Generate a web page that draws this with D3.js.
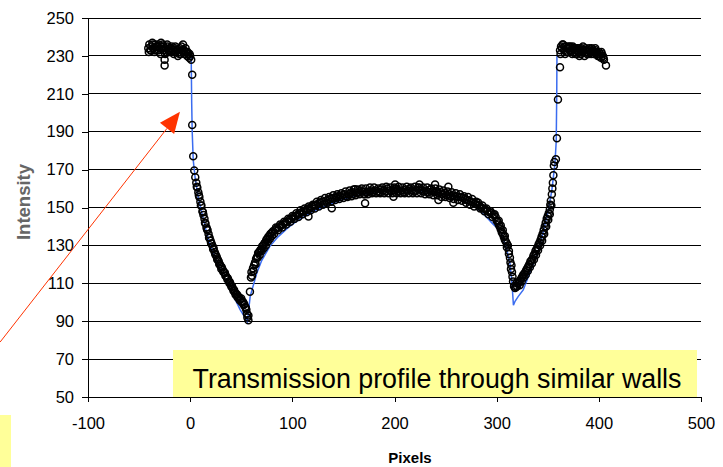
<!DOCTYPE html>
<html>
<head>
<meta charset="utf-8">
<script src="https://cdn.jsdelivr.net/npm/d3@7"></script>
<style>
  body { margin: 0; background: #fff; }
  svg { display: block; font-family: "Liberation Sans", Arial, sans-serif; }
</style>
</head>
<body>
<div id="chart"></div>
<script>
// measured profile, [pixel, intensity]
const leftPlateau = [
  [-41,234],[-40,236],[-39,233],[-38,235],[-37,237],[-36,234],[-35,232],[-34,236],[-33,235],
  [-32,233],[-31,236],[-30,234],[-29,231],[-28,235],[-27,236],[-26,233],[-25,228],[-25,225],
  [-24,234],[-23,232],[-22,235],[-21,233],[-20,234],[-19,232],[-18,235],[-17,233],[-16,231],
  [-15,234],[-14,232],[-13,233],[-12,230],[-11,232],[-10,234],[-9,231],[-8,233],[-7,236],
  [-6,233],[-5,231],[-4,232],[-3,230],[-2,231],[-1,229],[0,230],[1,228],
  [-40.5,232],[-38.5,233],[-36.5,236],[-34.5,233],[-32.5,235],[-30.5,233],[-28.5,237],
  [-26.5,235],[-24.5,231],[-22.5,236],[-20.5,232],[-18.5,234],[-16.5,233],[-14.5,235],
  [-12.5,233],[-10.5,231],[-8.5,235],[-6.5,232],[-4.5,234],[-2.5,232],[-0.5,231]
];
const leftWall = [
  [2,220],[2,193.5],[3,177],[4,169.5],[5,166],[6,163],[7,160.5],[8,158],[9,155.5],[10,153],
  [11,151],[12,148],[13,146],[14,144],[15,141.5],[16,139.5],[17,138],[18,136],[19,134],
  [20,132.5],[21,131],[22,129.5],[23,128.5],[24,126.5],[25,125],[26,124],[27,122.5],
  [28,121.5],[29,120],[30,119],[31,118.5],[32,117],[33,116],[34,115.5],[35,114],[36,113],
  [37,112.5],[38,111],[39,110.5],[40,109],[41,108.5],[42,107],[43,106.5],[44,105],
  [45,104.5],[46,104],[47,103],[48,102.5],[49,101.5],[50,102],[51,100.5],[52,100],[53,99],
  [54,97.5],[55,96],[55.5,94],[56,92],[57,90.5],[57,93],
  [6.5,161],[8.5,156.5],[10.5,151],[12.5,147.5],[14.5,142],[16.5,138.5],[18.5,134],
  [20.5,131],[22.5,128],[24.5,125.5],[26.5,122.5],[28.5,120],[30.5,117.5],[32.5,116],
  [34.5,114],[36.5,112],[38.5,110],[40.5,108],[42.5,106],[44.5,104],[46.5,102.5],
  [48.5,101],[50.5,100],[52.5,98.5],[54.5,97]
];
const leftRise = [
  [58.5,105.5],[59.5,113],[60.5,114],[61.5,118],[62.5,119.5],[63.5,121],[64.5,123],[65.5,124],
  [66.5,126],[67.5,126.5],[68.5,127.5],[69.5,128],[70.5,129.5],[71.5,130],[72.5,131],
  [73.5,131.5],[74.5,133],[75.5,133.5],[76.5,134.5],[77.5,135],[78.5,136],[79.5,136.5],
  [60,116],[62,116.5],[64,120],[66,123.5],[68,125],[70,127],[72,128.5],[74,130],[76,132],
  [78,133.5],[80,135]
];
const arch = [
  [81,137.5],[83,138],[85,139],[87,139.5],[89,140.5],[91,141],[93,142],[95,142.5],[97,143.5],
  [99,144],[101,145],[103,145.5],[105,146],[107,147],[109,147.5],[111,148],[113,148.5],
  [115,149.5],[115.8,145.2],[117,149.5],[119,150.5],[121,151],[123,151],[125,152],[127,152.5],
  [129,153],[131,152],[133,153.5],[135,154],[137,154.5],[138.6,149.6],[139,155],[141,155],
  [143,155.5],[145,156],[147,155.5],[149,156.5],[151,157],[153,156],[155,157],[157,157.5],
  [159,157],[161,158],[161.4,159.6],[163,157.5],[165,158],[167,159],[169,158.5],[171,157],
  [171.2,152.2],[173,158],[175,158.5],[177,159],[179,158],[181,159],[183,158.5],[185,158],
  [187,159.5],[189,159],[191,158.5],[193,160],[195,159],[197,158.5],[199,159],[199,155.7],
  [200.6,162.2],[201,160],[203,159.5],[205,158.5],[207,159],[209,158],[211,159.5],[213,159],
  [215,160],[217,159],[219,158.5],[221,159],[223,160.5],[224.4,162.2],[225,159.5],[227,159],
  [229,158.5],[231,159],[233,158],[235,159.5],[237,158.5],[239,158],[239.7,162.2],[241,158.5],
  [243,157.5],[243,154],[245,158],[247,157],[249,157.5],[251,156.5],[252.7,161],[253,157],
  [255,156],[257,156.5],[257.6,152.5],[259,156],[261,156],[263,155.5],[265,155.5],[267,155],
  [269,154.5],[271,154],[273,153.5],[275,153],[277,152.5],[279,152],
  [82,136],[84,139.5],[86,138],[88,141],[90,139.5],[92,142.5],[94,141],[96,144],[98,142.5],
  [100,145.5],[102,144],[104,147],[106,145],[108,148.5],[110,146.5],[112,149.5],[114,147.5],
  [116,150.5],[118,148.5],[120,151.5],[122,149.5],[124,153],[126,150.5],[128,154],[130,151.5],
  [132,155],[134,152.5],[136,155.5],[138,153],[140,156.5],[142,154],[144,157],[146,154.5],
  [148,157.5],[150,155],[152,158.5],[154,155.5],[156,159],[158,156],[160,159.5],[162,156.5],
  [164,159.5],[166,157],[168,160],[170,157],[172,160],[174,157],[176,160.5],[178,157.5],
  [180,160.5],[182,157.5],[184,160],[186,157.5],[188,160.5],[190,157.5],[192,161],[194,157.5],
  [196,160.5],[198,157.5],[200,160.5],[202,157.5],[204,161],[206,157.5],[208,160.5],[210,157.5],
  [212,161],[214,157.5],[216,160.5],[218,157.5],[220,161],[222,157.5],[224,160.5],[226,157.5],
  [228,160.5],[230,157],[232,160.5],[234,157],[236,160],[238,156.5],[240,160],[242,156.5],
  [244,159.5],[246,155.5],[248,159],[250,155.5],[252,158.5],[254,155],[256,158],[258,154.5],
  [260,157.5],[262,154],[264,157],[266,153.5],[268,156],[270,152.5],[272,155.5],[274,151.5],
  [276,154.5],[278,150.5],[280,153]
];
const rightWall = [
  [281,151.5],[283,151],[285,150],[287,149.5],[289,149],[291,148],[293,147.5],[295,147],
  [297,146],[299,145],[301,142.5],[302,141],[303,140],[304,138.5],[305,137],[306,136],
  [307,134.5],[308,133],[309,132],[310,131],[311,130],[312,127],[313,123.5],[313.5,121],
  [314.5,119.5],[315,116],[315.5,113.5],[316,111],[317,108.5],[318,107.5],[319,108],
  [319.5,110],[320,108.5],[321,110],
  [282,152.5],[284,149.5],[286,151],[288,148],[290,149.5],[292,146.5],[294,148],[296,145],
  [298,146.5],[300,143],[302,143],[304,140.5],[306,138],[308,135],[310,129],[312,125.5],
  [314,117.5]
];
const rightRise = [
  [322,111],[323,111.5],[324,112.5],[325,113.5],[326,114.5],[327,115],[328,116],[329,117],
  [330,118],[331,119],[332,120],[333,121.5],[334,122],[335,123],[336,124.5],[337,125.5],
  [338,127],[339,128],[340,129],[341,130.5],[342,131.5],[343,133],[344,134.5],[345,136],
  [346,138],[347,140],[348,142],[349,144],[350,145.5],[351,147],[352,149],[352.5,151.5],
  [353,153.5],[354,157],[354.5,160],[355,163],[355.5,167],[356,172],[356.5,174],[358,175.5],
  [359,186.5],[360,207],[362,224],
  [322.5,109],[324.5,111],[326.5,113],[328.5,114.5],[330.5,116.5],[332.5,118.5],[334.5,120.5],
  [336.5,122.5],[338.5,125],[340.5,127.5],[342.5,130],[344.5,132.5],[346.5,136],[348.5,140],
  [350.5,143.5],[352,146.5],[353.5,151]
];
const rightPlateau = [
  [362,233],[363,235],[364,234],[365,236],[366,233],[367,231],[368,235],[369,234],[370,232],
  [371,234],[372,235],[373,233],[374,231],[375,234],[376,233],[377,231],[378,233],[379,234],
  [380,232],[381,230],[382,233],[383,234],[384,232],[385,233],[386,230],[387,234],[388,233],
  [389,232],[390,231],[391,233],[392,232],[393,234],[394,233],[395,231],[396,232],[397,233],
  [398,232],[399,230],[400,232],[401,231],[402,229],[403,231],[404,230],[405,228],[407,225],
  [362.5,231],[364.5,236],[366.5,235],[368.5,232],[370.5,235],[372.5,232],[374.5,235],
  [376.5,234],[378.5,231],[380.5,234],[382.5,231],[384.5,235],[386.5,233],[388.5,231],
  [390.5,234],[392.5,231],[394.5,232],[396.5,234],[398.5,231],[400.5,230],[402.5,232],
  [404.5,229]
];

// model curve
const fitCurve = [
  [1,230],[1.5,205],[2,190],[3,175],[5,165],[8,155],[12,146],[16,137],[20,129.5],[25,123],
  [30,116.5],[35,111],[40,105.5],[45,100.5],[49,96],[53,92.5],[56,89.7],[58.7,103],[65,115],
  [70,122],[78,129.5],[86,134.5],[95,139],[105,143],[120,148],[140,152.5],[160,156],[180,158],
  [200,159],[220,159],[240,158],[260,155.5],[280,150],[290,145],[296,141.5],[300,139.5],
  [305,136],[310,127.5],[313,120.5],[315,110],[316.4,98.5],[318,100.5],[321,103],[326,106.5],
  [331,113.5],[336,120.5],[341,127.5],[346,138],[350.6,148.7],[354,159],[357,173],[358.3,185],
  [358.8,210],[359,230]
];

const pixelTicks = [-100, 0, 100, 200, 300, 400, 500];
const intensityTicks = [50, 70, 90, 110, 130, 150, 170, 190, 210, 230, 250];
const noteText = "Transmission profile through similar walls";
const arrowFrom = [-186, 79];
const arrowTo = [-10, 200.5];

const width = 723, height = 467;

const svg = d3.select("#chart").append("svg")
  .attr("width", width)
  .attr("height", height);

const x = d3.scaleLinear().domain([-100, 500]).range([88, 701]);
const y = d3.scaleLinear().domain([50, 250]).range([397, 18]);

// gridlines
svg.append("g")
  .selectAll("line")
  .data(intensityTicks)
  .join("line")
  .attr("x1", x(-100))
  .attr("x2", x(500))
  .attr("y1", d => y(d))
  .attr("y2", d => y(d))
  .attr("stroke", "#000")
  .attr("stroke-width", 1)
  .attr("shape-rendering", "crispEdges");

// fit line
svg.append("path")
  .datum(fitCurve)
  .attr("fill", "none")
  .attr("stroke", "#3a6cf0")
  .attr("stroke-width", 1.5)
  .attr("d", d3.line().x(d => x(d[0])).y(d => y(d[1])));

// measured points
const points = [].concat(leftPlateau, leftWall, leftRise, arch, rightWall, rightRise, rightPlateau);
svg.append("g")
  .selectAll("circle")
  .data(points)
  .join("circle")
  .attr("cx", d => x(d[0]))
  .attr("cy", d => y(d[1]))
  .attr("r", 3.5)
  .attr("fill", "none")
  .attr("stroke", "#000")
  .attr("stroke-width", 1.5);

// note boxes
svg.append("rect")
  .attr("x", 173).attr("y", 350)
  .attr("width", 524).attr("height", 47)
  .attr("fill", "#ffff99");
svg.append("text")
  .attr("x", 437).attr("y", 388)
  .attr("text-anchor", "middle")
  .attr("font-size", 26.8)
  .attr("fill", "#000")
  .text(noteText);
svg.append("rect")
  .attr("x", 0).attr("y", 415)
  .attr("width", 11).attr("height", 52)
  .attr("fill", "#ffff99");

// axes
const yAxis = svg.append("g")
  .attr("transform", `translate(${x(-100)},0)`)
  .call(d3.axisLeft(y).tickValues(intensityTicks).tickFormat(d => String(d))
    .tickSize(6).tickSizeOuter(0).tickPadding(8));
const xAxis = svg.append("g")
  .attr("transform", `translate(0,${y(50)})`)
  .call(d3.axisBottom(x).tickValues(pixelTicks).tickFormat(d => String(d))
    .tickSize(5).tickSizeOuter(0).tickPadding(15));
[yAxis, xAxis].forEach(g => {
  g.selectAll("text").attr("font-size", 16.5).attr("font-family", "Liberation Sans, Arial, sans-serif").attr("fill", "#000");
  g.selectAll("line, path").attr("stroke", "#000").attr("shape-rendering", "crispEdges");
});

svg.append("text")
  .attr("x", 410).attr("y", 463)
  .attr("text-anchor", "middle")
  .attr("font-size", 15)
  .attr("font-weight", "bold")
  .text("Pixels");

svg.append("text")
  .attr("transform", "translate(29.5,202) rotate(-90)")
  .attr("text-anchor", "middle")
  .attr("font-size", 18.5)
  .attr("font-weight", "bold")
  .attr("fill", "#666")
  .text("Intensity");

// arrow
const ax0 = x(arrowFrom[0]), ay0 = y(arrowFrom[1]);
const ax1 = x(arrowTo[0]), ay1 = y(arrowTo[1]);
const len = Math.hypot(ax1 - ax0, ay1 - ay0);
const ux = (ax1 - ax0) / len, uy = (ay1 - ay0) / len;
const headL = 21, headW = 9;
const bx = ax1 - ux * headL, by = ay1 - uy * headL;
svg.append("line")
  .attr("x1", ax0).attr("y1", ay0)
  .attr("x2", bx).attr("y2", by)
  .attr("stroke", "#ff3300")
  .attr("stroke-width", 1);
svg.append("path")
  .attr("d", `M${ax1},${ay1}L${bx - uy * headW},${by + ux * headW}L${bx + uy * headW},${by - ux * headW}Z`)
  .attr("fill", "#ff3300");
</script>
</body>
</html>
